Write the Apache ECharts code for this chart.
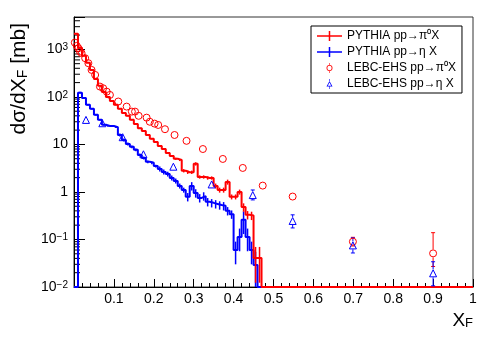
<!DOCTYPE html>
<html>
<head>
<meta charset="utf-8">
<script src="https://cdn.jsdelivr.net/npm/echarts@6/dist/echarts.min.js"></script>
<style>
html, body { margin: 0; padding: 0; background: #fff; }
#chart { width: 498px; height: 339px; }
</style>
</head>
<body>
<div id="chart"></div>
<script>
// PYTHIA histograms: bin width 0.01 starting at xF = 0
var binWidth = 0.01;
var nBins = 100;
var redVals = [2120, 1076, 730, 520, 370, 239, 171, 127, 100, 82,
    68, 56, 46, 40, 33, 27, 22, 19.2, 15.8, 13.1,
    11.3, 9.3, 8.0, 6.6, 5.7, 5.0, 4.7, 2.8, 2.6, 2.6,
    3.9, 2.07, 2.07, 1.97, 1.97, 1.34, 1.10, 1.10, 1.62, 0.79,
    0.79, 1.0, 0.48, 0.33, 0.32, 0.041, 0.041];
var redRelErr = [0.02, 0.02, 0.02, 0.02, 0.02, 0.02, 0.02, 0.02, 0.02, 0.02,
    0.03, 0.03, 0.03, 0.03, 0.03, 0.03, 0.03, 0.03, 0.03, 0.03,
    0.05, 0.05, 0.05, 0.05, 0.05, 0.05, 0.05, 0.08, 0.08, 0.08,
    0.08, 0.08, 0.08, 0.08, 0.08, 0.12, 0.12, 0.12, 0.12, 0.12,
    0.12, 0.12, 0.2, 0.2, 0.2, 0.7, 0.7];
var blueVals = [0, 123, 95, 68, 56, 42, 33, 26, 24.5, 24.5,
    23, 15.8, 12.4, 10.2, 8.9, 7.7, 6.0, 5.2, 4.3, 4.1,
    3.5, 3.05, 2.64, 2.39, 1.97, 1.71, 1.34, 1.10, 0.79, 1.34,
    0.95, 0.75, 0.82, 0.62, 0.59, 0.56, 0.53, 0.51, 0.40, 0.34,
    0.060, 0.113, 0.26, 0.113, 0.06, 0.029];
var blueRelErr = [0, 0.04, 0.04, 0.04, 0.04, 0.04, 0.04, 0.04, 0.04, 0.04,
    0.04, 0.07, 0.07, 0.07, 0.07, 0.07, 0.07, 0.07, 0.07, 0.07,
    0.07, 0.12, 0.12, 0.12, 0.12, 0.12, 0.12, 0.12, 0.2, 0.2,
    0.2, 0.2, 0.2, 0.2, 0.2, 0.2, 0.2, 0.2, 0.2, 0.2,
    0.5, 0.5, 0.5, 0.5, 0.5, 0.9];

// LEBC-EHS measurements
var piX = [0.002, 0.007, 0.011, 0.015, 0.019, 0.028, 0.036, 0.044, 0.053, 0.065,
    0.073, 0.082, 0.09, 0.111, 0.132, 0.145, 0.153, 0.162, 0.182, 0.19,
    0.202, 0.211, 0.228, 0.252, 0.282, 0.323, 0.373, 0.423, 0.473, 0.548,
    0.699, 0.9];
var piY = [1390, 1185, 1060, 900, 832, 653, 512, 370, 290, 165,
    152, 129, 110, 80, 62.5, 49, 49, 40, 36.6, 30,
    27.4, 25.7, 20.9, 15.8, 11.9, 8.0, 4.95, 3.2, 1.36, 0.80,
    0.090, 0.051];
var piErrLo = [0, 0, 0, 0, 0, 0, 0, 0, 0, 0, 0, 0, 0, 0, 0, 0, 0, 0, 0, 0,
    0, 0, 0, 0, 0, 0, 0, 0, 0.1, 0.14, 0.017, 0.024];
var piErrHi = [0, 0, 0, 0, 0, 0, 0, 0, 0, 0, 0, 0, 0, 0, 0, 0, 0, 0, 0, 0,
    0, 0, 0, 0, 0, 0, 0, 0, 0.1, 0.07, 0.021, 0.088];
var etaX = [0.030, 0.071, 0.122, 0.174, 0.249, 0.345, 0.448, 0.548, 0.699, 0.9];
var etaY = [32.8, 27.9, 14.2, 6.2, 3.4, 1.44, 0.86, 0.245, 0.075, 0.0194];
var etaErrLo = [0, 0, 0, 1.0, 0.2, 0.1, 0.18, 0.07, 0.023, 0.0088];
var etaErrHi = [0, 0, 0, 1.0, 0.2, 0.1, 0.24, 0.085, 0.033, 0.0146];

// axes
var xTicks = [0, 1, 0.1];
var yMin = 0.01, yMax = 4800;
var yMinorTicks = [0.02, 0.03, 0.04, 0.05, 0.06, 0.07, 0.08, 0.09,
    0.2, 0.3, 0.4, 0.5, 0.6, 0.7, 0.8, 0.9,
    2, 3, 4, 5, 6, 7, 8, 9,
    20, 30, 40, 50, 60, 70, 80, 90,
    200, 300, 400, 500, 600, 700, 800, 900,
    2000, 3000, 4000];

var names = ['PYTHIA pp\u2192\u03c0\u2070X', 'PYTHIA pp\u2192\u03b7 X',
    'LEBC-EHS pp\u2192\u03c0\u2070X', 'LEBC-EHS pp\u2192\u03b7 X'];
var font = 'Liberation Sans, Arial, Helvetica, sans-serif';

function stepData(vals) {
    var d = [];
    for (var i = 0; i < nBins; i++) {
        var v = vals[i] || 0;
        d.push([i * binWidth, v > 0 ? v : yMin]);
    }
    var last = vals[nBins - 1] || 0;
    d.push([nBins * binWidth, last > 0 ? last : yMin]);
    return d;
}

function histErrData(vals, rel) {
    var d = [];
    for (var i = 0; i < vals.length; i++) {
        if (vals[i] > 0 && rel[i] > 0) {
            d.push([(i + 0.5) * binWidth, vals[i] * (1 - rel[i]), vals[i] * (1 + rel[i])]);
        }
    }
    return d;
}

function pointErrData(xs, ys, lo, hi) {
    var d = [];
    for (var i = 0; i < xs.length; i++) {
        if (lo[i] > 0 || hi[i] > 0) d.push([xs[i], ys[i], ys[i] - lo[i], ys[i] + hi[i]]);
    }
    return d;
}

function histErrItem(color) {
    return function (params, api) {
        var x = api.value(0);
        var p1 = api.coord([x, Math.max(api.value(1), yMin)]);
        var p2 = api.coord([x, api.value(2)]);
        return {
            type: 'line',
            shape: {x1: p1[0], y1: p1[1], x2: p2[0], y2: p2[1]},
            style: {stroke: color, lineWidth: 1.5}
        };
    };
}

function pointErrItem(color) {
    return function (params, api) {
        var x = api.value(0);
        var c = api.coord([x, api.value(1)]);
        var lo = api.coord([x, Math.max(api.value(2), yMin)]);
        var hi = api.coord([x, api.value(3)]);
        var kids = [];
        if (hi[1] < c[1] - 4) {
            kids.push({type: 'line', shape: {x1: c[0], y1: c[1] - 4, x2: c[0], y2: hi[1]}, style: {stroke: color, lineWidth: 1}});
            kids.push({type: 'line', shape: {x1: c[0] - 2, y1: hi[1], x2: c[0] + 2, y2: hi[1]}, style: {stroke: color, lineWidth: 1}});
        }
        if (lo[1] > c[1] + 4) {
            kids.push({type: 'line', shape: {x1: c[0], y1: c[1] + 4, x2: c[0], y2: lo[1]}, style: {stroke: color, lineWidth: 1}});
            kids.push({type: 'line', shape: {x1: c[0] - 2, y1: lo[1], x2: c[0] + 2, y2: lo[1]}, style: {stroke: color, lineWidth: 1}});
        }
        return {type: 'group', children: kids};
    };
}

function zip(xs, ys) {
    return xs.map(function (x, i) { return [x, ys[i]]; });
}

var crossIcon = 'path://M0,4.25H25V5.75H0Z M11.75,0H13.25V10H11.75Z';
var circleIcon = 'path://M6.5,5A3,3 0 1 1 0.5,5A3,3 0 1 1 6.5,5Z M5.7,5A2.2,2.2 0 1 0 1.3,5A2.2,2.2 0 1 0 5.7,5Z M3.2,0H3.8V2H3.2Z M3.2,8H3.8V10H3.2Z';
var triIcon = 'path://M3,2L6,7.5L0,7.5Z M3,3.6L1.3,6.7L4.7,6.7Z M2.7,0H3.3V2H2.7Z M2.7,7.5H3.3V10H2.7Z';

var chart = echarts.init(document.getElementById('chart'), null, {renderer: 'canvas'});
chart.setOption({
    animation: false,
    backgroundColor: '#fff',
    grid: {
        left: 74, right: 25, top: 17, bottom: 52,
        show: true, borderColor: '#333', borderWidth: 1,
        containLabel: false, outerBoundsMode: 'none'
    },
    legend: {
        orient: 'vertical', left: 311, top: 26,
        padding: [3, 6, 2, 6], itemGap: 2, itemWidth: 25, itemHeight: 10, itemTextGap: 6,
        borderColor: '#000', borderWidth: 1, borderRadius: 0, backgroundColor: '#fff',
        selectedMode: false,
        textStyle: {fontSize: 12, lineHeight: 14, color: '#000', fontFamily: font},
        data: [
            {name: names[0], icon: crossIcon, itemStyle: {color: '#ff0000', borderWidth: 0}},
            {name: names[1], icon: crossIcon, itemStyle: {color: '#0000ff', borderWidth: 0}},
            {name: names[2], icon: circleIcon, itemStyle: {color: '#ff0000', borderWidth: 0}},
            {name: names[3], icon: triIcon, itemStyle: {color: '#0000ff', borderWidth: 0}}
        ]
    },
    xAxis: {
        type: 'value', min: xTicks[0], max: xTicks[1], interval: xTicks[2],
        name: 'X{sub|F}', nameLocation: 'end', nameGap: 0,
        nameTextStyle: {
            fontSize: 19, color: '#000', fontFamily: font, align: 'right', verticalAlign: 'top',
            padding: [24, 0, 0, 0],
            rich: {sub: {fontSize: 13, fontFamily: font, color: '#000', verticalAlign: 'bottom'}}
        },
        axisLine: {show: true, lineStyle: {color: '#000', width: 1}},
        axisTick: {show: true, inside: true, length: 8, lineStyle: {color: '#000'}},
        minorTick: {show: true, splitNumber: 5, length: 4, lineStyle: {color: '#000'}},
        splitLine: {show: false},
        axisLabel: {
            fontSize: 14, color: '#000', fontFamily: font, margin: 5,
            formatter: function (v) { return v === 0 ? '' : String(+v.toFixed(1)); }
        }
    },
    yAxis: {
        type: 'log', logBase: 10, min: yMin, max: yMax,
        name: 'd\u03c3/dX{sub|F} [mb]', nameLocation: 'end', nameGap: -6, nameRotate: 90,
        nameTextStyle: {
            fontSize: 21, color: '#000', fontFamily: font, align: 'right', verticalAlign: 'bottom',
            padding: [0, 0, 44, 0],
            rich: {sub: {fontSize: 14, fontFamily: font, color: '#000', verticalAlign: 'bottom'}}
        },
        axisLine: {show: true, lineStyle: {color: '#000', width: 1}},
        axisTick: {show: true, inside: true, length: 11, lineStyle: {color: '#000'}},
        splitLine: {show: false},
        axisLabel: {
            fontSize: 14, color: '#000', fontFamily: font, margin: 6,
            formatter: function (v) {
                var e = Math.round(Math.log(v) / Math.LN10);
                if (Math.abs(Math.log(v) / Math.LN10 - e) > 1e-6) return '';
                if (e === 0) return '1';
                if (e === 1) return '10';
                return '10{sup|' + (e < 0 ? '\u2212' + (-e) : e) + '}';
            },
            rich: {sup: {fontSize: 10, fontFamily: font, color: '#000', verticalAlign: 'top'}}
        }
    },
    series: [
        {
            name: 'yMinor', type: 'custom', silent: true,
            data: yMinorTicks.map(function (v) { return [0, v]; }),
            renderItem: function (params, api) {
                var p = api.coord([0, api.value(1)]);
                return {type: 'line', shape: {x1: p[0], y1: p[1], x2: p[0] + 6, y2: p[1]}, style: {stroke: '#000', lineWidth: 1}};
            }
        },
        {
            name: names[1], type: 'line', step: 'end', data: stepData(blueVals),
            showSymbol: false, symbol: 'none', color: '#0000ff',
            lineStyle: {color: '#0000ff', width: 2}, z: 3
        },
        {
            name: 'blueErr', type: 'custom', data: histErrData(blueVals, blueRelErr),
            renderItem: histErrItem('#0000ff'), z: 3
        },
        {
            name: names[0], type: 'line', step: 'end', data: stepData(redVals),
            showSymbol: false, symbol: 'none', color: '#ff0000',
            lineStyle: {color: '#ff0000', width: 2}, z: 4
        },
        {
            name: 'redErr', type: 'custom', data: histErrData(redVals, redRelErr),
            renderItem: histErrItem('#ff0000'), z: 4
        },
        {
            name: names[2], type: 'scatter', data: zip(piX, piY),
            symbol: 'circle', symbolSize: 7, z: 5,
            itemStyle: {color: 'rgba(0,0,0,0)', borderColor: '#ff0000', borderWidth: 1, opacity: 1}
        },
        {
            name: 'piErr', type: 'custom', data: pointErrData(piX, piY, piErrLo, piErrHi),
            renderItem: pointErrItem('#ff0000'), z: 5
        },
        {
            name: names[3], type: 'scatter', data: zip(etaX, etaY),
            symbol: 'triangle', symbolSize: 7, z: 5,
            itemStyle: {color: 'rgba(0,0,0,0)', borderColor: '#0000ff', borderWidth: 1, opacity: 1}
        },
        {
            name: 'etaErr', type: 'custom', data: pointErrData(etaX, etaY, etaErrLo, etaErrHi),
            renderItem: pointErrItem('#0000ff'), z: 5
        }
    ]
});
</script>
</body>
</html>
